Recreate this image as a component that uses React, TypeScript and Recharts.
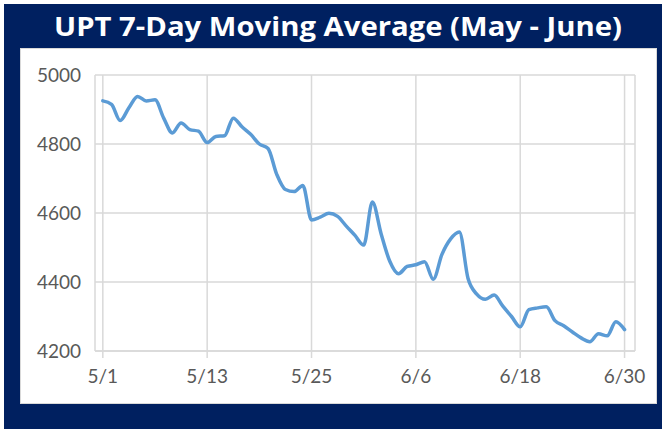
import React from 'react';
import { LineChart, Line, XAxis, YAxis, CartesianGrid } from 'recharts';

const title = 'UPT 7-Day Moving Average (May - June)';
const startMonth = 5;
const dayCount = 61;
const xTicks = [0, 12, 24, 36, 48, 60];
const yTicks = [4200, 4400, 4600, 4800, 5000];
const upt = [
  4925, 4915, 4868, 4905, 4938, 4925, 4928, 4875, 4832, 4861,
  4842, 4837, 4804, 4822, 4824, 4875, 4850, 4828, 4800, 4787,
  4712, 4668, 4662, 4680, 4580, 4588, 4599, 4590, 4562, 4535,
  4507, 4632, 4540, 4460, 4424, 4445, 4450, 4459, 4408, 4480,
  4525, 4545, 4410, 4365, 4350, 4362, 4330, 4300, 4270, 4320,
  4325, 4328, 4288, 4273, 4255, 4238, 4227, 4250, 4244, 4285,
  4262,
];

const dateLabel = (i: number) => {
  const d = i + 1;
  if (d <= 31) return `${startMonth}/${d}`;
  return `${startMonth + 1}/${d - 31}`;
};

const data = upt.slice(0, dayCount).map((v, i) => ({ day: i, label: dateLabel(i), value: v }));

const FONT = 'Lato, "Open Sans", sans-serif';
const TITLE_FONT = '"Open Sans", Lato, sans-serif';

export default function App() {
  return (
    <div style={{ position: 'absolute', left: 0, top: 0, width: 667, height: 429, background: '#fff', overflow: 'hidden' }}>
      <svg width={667} height={429} style={{ position: 'absolute', left: 0, top: 0 }}>
        <rect x={4} y={4} width={658} height={425} fill="#002060" />
        <rect x={20.5} y={48.5} width={636} height={355} fill="#ffffff" stroke="#D9D9D9" strokeWidth={1} />
        <text
          x={54}
          y={36}
          textAnchor="start"
          fill="#ffffff"
          fontFamily={TITLE_FONT}
          fontWeight={700}
          fontSize={27}
          textLength={568}
          lengthAdjust="spacingAndGlyphs"
        >
          {title}
        </text>
      </svg>
      <div style={{ position: 'absolute', left: 0, top: 0 }}>
        <LineChart width={667} height={429} data={data} margin={{ top: 75, right: 32, left: 35, bottom: 38 }}>
          <CartesianGrid stroke="#D9D9D9" strokeWidth={1.5} ticks={xTicks} />
          <XAxis
            dataKey="day"
            type="number"
            domain={[-0.9, 61.2]}
            ticks={xTicks}
            tickFormatter={(v: number) => dateLabel(v)}
            interval={0}
            height={40}
            stroke="#D9D9D9"
            tickSize={7}
            tickMargin={12}
            tick={{ fill: '#595959', fontSize: 19, fontFamily: FONT }}
            axisLine={{ stroke: '#D9D9D9', strokeWidth: 1.5 }}
            tickLine={{ stroke: '#D9D9D9', strokeWidth: 1.5 }}
          />
          <YAxis
            type="number"
            domain={[4200, 5000]}
            ticks={yTicks}
            width={60}
            axisLine={false}
            tickLine={false}
            tickSize={0}
            tickMargin={14}
            tick={{ fill: '#595959', fontSize: 19, fontFamily: FONT }}
          />
          <Line
            type="monotone"
            dataKey="value"
            stroke="#5B9BD5"
            strokeWidth={3.5}
            dot={false}
            strokeLinecap="round"
            strokeLinejoin="round"
            isAnimationActive={false}
          />
        </LineChart>
      </div>
    </div>
  );
}
